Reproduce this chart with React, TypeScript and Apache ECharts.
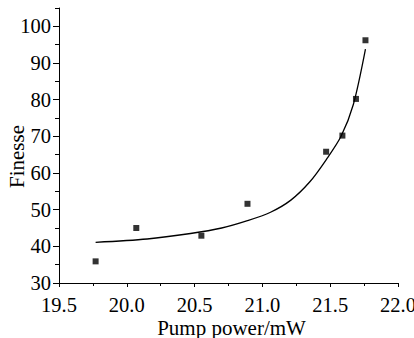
import React, { useEffect, useRef } from "react";
import * as echarts from "echarts";

const xTicks = [19.5, 20.0, 20.5, 21.0, 21.5, 22.0];
const yMajorTicks = [30, 40, 50, 60, 70, 80, 90, 100];
const yMinorTicks = [35, 45, 55, 65, 75, 85, 95, 105];

const pumpPower = [19.77, 20.07, 20.55, 20.89, 21.47, 21.59, 21.69, 21.76];
const finesse = [35.9, 45.0, 42.9, 51.6, 65.8, 70.2, 80.2, 96.2];

const fitX = [19.77, 20.15, 20.47, 20.7, 20.89, 21.06, 21.21, 21.35, 21.47, 21.58, 21.67, 21.76];
const fitY = [41.1, 42.0, 43.5, 45.0, 47.0, 49.3, 52.6, 57.6, 63.6, 70.0, 78.6, 93.8];

const FONT = "Liberation Serif";

export default function App() {
  const ref = useRef<HTMLDivElement>(null);
  useEffect(() => {
    if (!ref.current) return;
    const chart = echarts.init(ref.current, null, { renderer: "svg" });
    const axisColor = "#000";
    const labelStyle = { fontFamily: FONT, fontSize: 20.5, color: "#000" };
    chart.setOption({
      animation: false,
      backgroundColor: "#fff",
      textStyle: { fontFamily: FONT },
      grid: { left: 59, right: 16, top: 8, bottom: 55, containLabel: false, outerBoundsMode: "none" },
      xAxis: {
        type: "value",
        min: xTicks[0],
        max: xTicks[xTicks.length - 1],
        interval: 0.5,
        name: "Pump power/mW",
        nameLocation: "middle",
        nameGap: 34,
        nameMoveOverlap: false,
        nameTextStyle: { fontFamily: FONT, fontSize: 21, color: "#000", padding: [0, 0, 0, 6] },
        axisLine: { lineStyle: { color: axisColor, width: 1 } },
        axisTick: { length: 4, lineStyle: { color: axisColor } },
        minorTick: { show: true, splitNumber: 2, length: 3, lineStyle: { color: axisColor } },
        splitLine: { show: false },
        axisLabel: {
          ...labelStyle,
          margin: 11,
          formatter: (v: number) => v.toFixed(1),
        },
      },
      yAxis: [
        {
          type: "value",
          min: 30,
          max: 105,
          interval: 10,
          name: "Finesse",
          nameLocation: "middle",
          nameGap: 32,
          nameMoveOverlap: false,
          nameTextStyle: { fontFamily: FONT, fontSize: 21, color: "#000", padding: [0, 22, 0, 0] },
          axisLine: { show: true, lineStyle: { color: axisColor, width: 1 } },
          axisTick: { show: true, length: 6, customValues: yMajorTicks, lineStyle: { color: axisColor } },
          splitLine: { show: false },
          axisLabel: {
            ...labelStyle,
            margin: 8,
            formatter: (v: number) => (v > 100 ? "" : String(v)),
          },
        },
        {
          type: "value",
          min: 30,
          max: 105,
          interval: 5,
          position: "left",
          axisLine: { show: false },
          axisTick: { show: true, length: 4, customValues: yMinorTicks, lineStyle: { color: axisColor } },
          axisLabel: { show: false },
          splitLine: { show: false },
        },
      ],
      series: [
        {
          type: "line",
          data: fitX.map((x, i) => [x, fitY[i]]),
          smooth: 0.3,
          showSymbol: false,
          symbol: "none",
          lineStyle: { color: "#000", width: 1.3 },
          z: 2,
        },
        {
          type: "scatter",
          data: pumpPower.map((x, i) => [x, finesse[i]]),
          symbol: "rect",
          symbolSize: 6,
          itemStyle: { color: "#000" },
          z: 3,
        },
      ],
    });
    return () => chart.dispose();
  }, []);
  return <div ref={ref} style={{ width: 414, height: 338, position: "absolute", left: 0, top: 0 }} />;
}
